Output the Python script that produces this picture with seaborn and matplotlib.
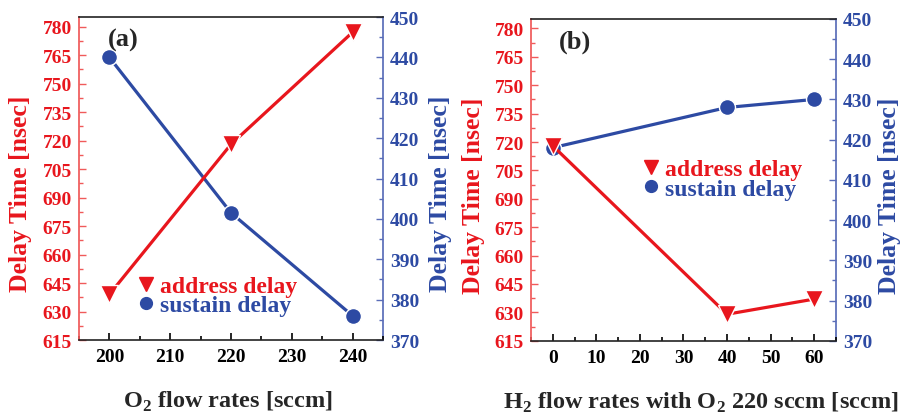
import matplotlib
matplotlib.use("Agg")
import matplotlib.pyplot as plt
import seaborn as sns
from matplotlib.ticker import MultipleLocator
from matplotlib.lines import Line2D

# === Data ===
o2_flow = [200, 220, 240]
o2_address = [639, 718, 777]
o2_sustain = [440, 401.5, 376]

h2_flow = [0, 40, 60]
h2_address = [718, 629, 637]
h2_sustain = [418, 428, 430]

RED = "#E8161D"
BLUE = "#2D4AA3"
RED_AX = "#F05A5A"
BLUE_AX = "#5A6DB8"

sns.set_theme(style="ticks")
plt.rcParams["font.family"] = ["Liberation Serif", "DejaVu Serif"]
plt.rcParams["font.weight"] = "bold"
plt.rcParams["mathtext.fontset"] = "custom"
plt.rcParams["mathtext.rm"] = "Liberation Serif:bold"
plt.rcParams["mathtext.bf"] = "Liberation Serif:bold"

fig = plt.figure(figsize=(9.07, 4.14), dpi=100)
ax_a = fig.add_axes([0.0871, 0.1763, 0.3352, 0.7802])
ax_b = fig.add_axes([0.5854, 0.1746, 0.3363, 0.7771])


def draw_panel(ax, x, addr, sust, xlim, xlabel, tag, leg_xy, xlab_x, ylab_x):
    ax2 = ax.twinx()
    sns.lineplot(x=x, y=addr, ax=ax, color=RED, marker="v", markersize=12.5,
                 linewidth=2.3, markeredgecolor="white", markeredgewidth=1)
    sns.lineplot(x=x, y=sust, ax=ax2, color=BLUE, marker="o", markersize=11.5,
                 linewidth=2.3, markeredgecolor="white", markeredgewidth=1)

    ax.set_xlim(*xlim)
    ax.set_ylim(615, 785)
    ax2.set_ylim(370, 450)
    ax.xaxis.set_major_locator(MultipleLocator(10))
    ax.xaxis.set_minor_locator(MultipleLocator(5))
    ax.yaxis.set_major_locator(MultipleLocator(15))
    ax.yaxis.set_minor_locator(MultipleLocator(7.5))
    ax2.yaxis.set_major_locator(MultipleLocator(10))
    ax2.yaxis.set_minor_locator(MultipleLocator(5))

    ax.tick_params(axis="x", which="both", direction="in", colors="black",
                   labelsize=14, pad=6)
    ax.tick_params(axis="x", which="major", length=5, width=1.2)
    ax.tick_params(axis="x", which="minor", length=3, width=1.2)
    ax.tick_params(axis="y", which="both", direction="in", color=RED_AX,
                   labelcolor=RED, labelsize=14, pad=5)
    ax.tick_params(axis="y", which="major", length=5, width=1)
    ax.tick_params(axis="y", which="minor", length=3, width=1)
    ax2.tick_params(axis="y", which="both", direction="in", color=BLUE_AX,
                    labelcolor=BLUE, labelsize=14, pad=5)
    ax2.tick_params(axis="y", which="major", length=5, width=1)
    ax2.tick_params(axis="y", which="minor", length=3, width=1)

    for s in ("top", "bottom"):
        ax.spines[s].set_color("#222222")
        ax.spines[s].set_linewidth(1.2)
    ax.spines["left"].set_color(RED_AX)
    ax2.spines["left"].set_visible(False)
    ax.spines["right"].set_visible(False)
    ax2.spines["right"].set_color(BLUE_AX)
    ax2.spines["top"].set_visible(False)
    ax2.spines["bottom"].set_visible(False)

    ax.set_xlabel(xlabel, fontsize=17.5, fontweight="bold")
    ax.xaxis.set_label_coords(xlab_x, -0.19)
    ax.xaxis.label.set_va("center")
    ax.set_ylabel("Delay Time [nsec]", color=RED, fontsize=18.5, fontweight="bold")
    ax.yaxis.set_label_coords(ylab_x[0], 0.455)
    ax.yaxis.label.set_va("center")
    ax2.set_ylabel("Delay Time [nsec]", color=BLUE, fontsize=18.5, fontweight="bold")
    ax2.yaxis.set_label_coords(ylab_x[1], 0.455)
    ax2.yaxis.label.set_va("center")
    for t in ax.get_xticklabels() + ax.get_yticklabels() + ax2.get_yticklabels():
        t.set_fontweight("bold")

    ax.text(0.145, 0.93, tag, transform=ax.transAxes, fontsize=19,
            fontweight="bold", ha="center", va="center")

    handles = [
        Line2D([], [], color=RED, marker="v", linestyle="none", markersize=9.5),
        Line2D([], [], color=BLUE, marker="o", linestyle="none", markersize=8.5),
    ]
    leg = ax.legend(handles, ["address delay", "sustain delay"], frameon=False,
                    loc="upper left", bbox_to_anchor=leg_xy,
                    prop={"size": 17, "weight": "bold"}, handletextpad=0.1,
                    handlelength=1.0, labelspacing=-0.1, borderaxespad=0,
                    borderpad=0)
    for txt, col in zip(leg.get_texts(), [RED, BLUE]):
        txt.set_color(col)
    ax.set_zorder(ax2.get_zorder() + 1)
    ax.patch.set_visible(False)


draw_panel(ax_a, o2_flow, o2_address, o2_sustain, (195, 245),
           r"O$_\mathbf{2}$ flow rates [sccm]", "(a)", (0.18, 0.20),
           0.49, (-0.194, 1.1875))
draw_panel(ax_b, h2_flow, h2_address, h2_sustain, (-5, 65),
           r"H$_\mathbf{2}$ flow rates with O$_\mathbf{2}$ 220 sccm [sccm]", "(b)",
           (0.355, 0.565), 0.556, (-0.19, 1.177))

fig.savefig("out.png", dpi=100)
